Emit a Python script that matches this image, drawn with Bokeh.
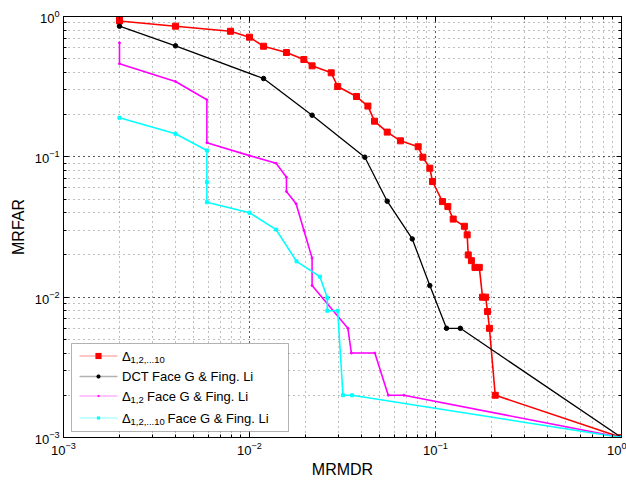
from bokeh.plotting import figure
from bokeh.models import LogAxis, Label, BoxAnnotation, PolyAnnotation, LogTicker, CustomJSTickFormatter, LogTickFormatter
from bokeh.embed import file_html
from bokeh.resources import INLINE

# ---- data ----
red_x = [0.002, 0.002, 0.004, 0.0079, 0.01, 0.0119, 0.0158, 0.0196, 0.0217, 0.0275, 0.0298,
         0.0376, 0.0433, 0.047, 0.055, 0.0648, 0.0807, 0.0855, 0.0932, 0.0964, 0.109, 0.1165,
         0.1245, 0.143, 0.148, 0.150, 0.156, 0.163, 0.172, 0.179, 0.186, 0.1905, 0.195, 0.2095, 1.0]
red_y = [0.96, 0.93, 0.853, 0.785, 0.712, 0.614, 0.554, 0.494, 0.445, 0.397, 0.317,
         0.269, 0.230, 0.1795, 0.150, 0.130, 0.118, 0.0994, 0.083, 0.0667, 0.048, 0.0443,
         0.036, 0.032, 0.0278, 0.020, 0.0182, 0.0163, 0.0163, 0.010, 0.010, 0.0079, 0.006, 0.002, 0.001]

black_x = [0.002, 0.004, 0.0119, 0.0217, 0.0417, 0.055, 0.075, 0.0932, 0.1146, 0.136, 1.0]
black_y = [0.853, 0.618, 0.3615, 0.198, 0.0994, 0.0483, 0.026, 0.0121, 0.006, 0.006, 0.001]

mag_x = [0.002, 0.002, 0.004, 0.0059, 0.0059, 0.01, 0.0139, 0.0158, 0.0158, 0.0178, 0.0196,
         0.0217, 0.0217, 0.0338, 0.0353, 0.0472, 0.0557, 0.0676, 1.0]
mag_y = [0.65, 0.46, 0.344, 0.255, 0.126, 0.102, 0.090, 0.0716, 0.0566, 0.0463, 0.030,
         0.019, 0.0121, 0.006, 0.004, 0.004, 0.002, 0.002, 0.001]

cyan_x = [0.002, 0.004, 0.0059, 0.0059, 0.0059, 0.01, 0.0139, 0.0179, 0.0239, 0.0262, 0.0262,
          0.0298, 0.0318, 0.0356, 1.0]
cyan_y = [0.19, 0.146, 0.111, 0.066, 0.0475, 0.040, 0.0303, 0.018, 0.014, 0.0099, 0.008,
          0.008, 0.002, 0.002, 0.001]

legend_delta = "\u0394"
legend_subs = ["1,2,...10", "", "1,2", "1,2,...10"]
legend_rest = ["", "DCT Face G & Fing. Li", "Face G & Fing. Li", "Face G & Fing. Li"]

x_label = "MRMDR"
y_label = "MRFAR"
FONT = "Liberation Sans"

p = figure(frame_width=558, frame_height=421, x_axis_type="log", y_axis_type="log",
           x_range=(1e-3, 1), y_range=(1e-3, 1), output_backend="svg", toolbar_location=None,
           min_border_left=63, min_border_right=5, min_border_top=16, min_border_bottom=43)
p.background_fill_color = "white"
p.border_fill_color = "white"
p.outline_line_color = "black"
p.outline_line_width = 1

for ax in (p.xaxis[0], p.yaxis[0]):
    ax.ticker = LogTicker(num_minor_ticks=10)
    ax.formatter = LogTickFormatter()
    ax.major_tick_in = 5
    ax.major_tick_out = 0
    ax.minor_tick_in = 3
    ax.minor_tick_out = 0
    ax.axis_line_color = "black"
    ax.major_label_text_font = FONT
    ax.major_label_text_font_size = "13px"
    ax.major_label_text_color = "black"
    ax.axis_label_text_font = FONT
    ax.axis_label_text_font_size = "16px"
    ax.axis_label_text_font_style = "normal"
    ax.axis_label_text_color = "black"

p.xaxis.axis_label = x_label
p.yaxis.axis_label = y_label
p.xaxis.major_label_standoff = 4
p.xaxis.axis_label_standoff = 3
p.yaxis.major_label_standoff = 4
p.yaxis.axis_label_standoff = 5

for loc in ("right", "above"):
    ax = LogAxis(ticker=LogTicker(num_minor_ticks=10), formatter=CustomJSTickFormatter(code="return ''"),
                 major_tick_in=5, major_tick_out=0, minor_tick_in=3, minor_tick_out=0,
                 major_label_standoff=0, axis_line_color="black")
    p.add_layout(ax, loc)

for g in (p.xgrid[0], p.ygrid[0]):
    g.ticker = LogTicker(num_minor_ticks=10)
    g.grid_line_color = "black"
    g.grid_line_alpha = 0.75
    g.grid_line_dash = "1 4"
    g.grid_line_width = 1
    g.minor_grid_line_color = "black"
    g.minor_grid_line_alpha = 0.5
    g.minor_grid_line_dash = "1 4"
    g.minor_grid_line_width = 1

# ---- series ----
p.line(red_x, red_y, line_color="#ff0000", line_width=1.6)
p.scatter(red_x, red_y, marker="square", size=6, fill_color="#ff0000", line_color="#ff0000")
p.line(black_x, black_y, line_color="black", line_width=1.3)
p.scatter(black_x, black_y, marker="circle", size=4.5, fill_color="black", line_color="black")
p.line(mag_x, mag_y, line_color="#ff00ff", line_width=1.6)
p.scatter(mag_x, mag_y, marker="circle", size=2, fill_color="#ff00ff", line_color="#ff00ff")
p.line(cyan_x, cyan_y, line_color="#00ffff", line_width=1.6)
p.scatter(cyan_x, cyan_y, marker="square", size=3, fill_color="#00ffff", line_color="#00ffff")

# ---- manual legend (screen units, frame-relative, origin bottom-left) ----
p.add_layout(BoxAnnotation(left=8, right=225, bottom=6, top=94,
                           left_units="screen", right_units="screen",
                           bottom_units="screen", top_units="screen",
                           fill_color="white", fill_alpha=1, line_color="black", line_width=1))

colors = ["#ff0000", "black", "#ff00ff", "#00ffff"]
msizes = [6, 4, 2, 3]
mradius = [0, 2, 1, 0]
row_y = [81.5, 61, 41.5, 19.5]
sub_w = {"1,2,...10": 33.5, "1,2": 13.0, "": 0}
for col, ms, mr, sub, rest, yy in zip(colors, msizes, mradius, legend_subs, legend_rest, row_y):
    p.add_layout(PolyAnnotation(xs=[16, 54, 54, 16], ys=[yy, yy, yy, yy], xs_units="screen",
                                ys_units="screen", line_color=col, line_width=1.5, fill_alpha=0))
    h = ms / 2
    p.add_layout(BoxAnnotation(left=35 - h, right=35 + h, bottom=yy - h, top=yy + h,
                               left_units="screen", right_units="screen",
                               bottom_units="screen", top_units="screen", border_radius=mr,
                               fill_color=col, fill_alpha=1, line_color=col, line_width=0.5))
    xx = 58.5
    if sub:
        p.add_layout(Label(x=xx, y=yy, x_units="screen", y_units="screen", text=legend_delta,
                           text_font=FONT, text_font_size="13px", text_baseline="middle",
                           text_color="black"))
        xx += 8.5
        p.add_layout(Label(x=xx, y=yy - 4, x_units="screen", y_units="screen", text=sub,
                           text_font=FONT, text_font_size="9.5px", text_baseline="middle",
                           text_color="black"))
        xx += sub_w[sub] + 3.5
    if rest:
        p.add_layout(Label(x=xx, y=yy, x_units="screen", y_units="screen", text=rest,
                           text_font=FONT, text_font_size="13px", text_baseline="middle",
                           text_color="black"))

open("out.html", "w").write(file_html(p, INLINE))
